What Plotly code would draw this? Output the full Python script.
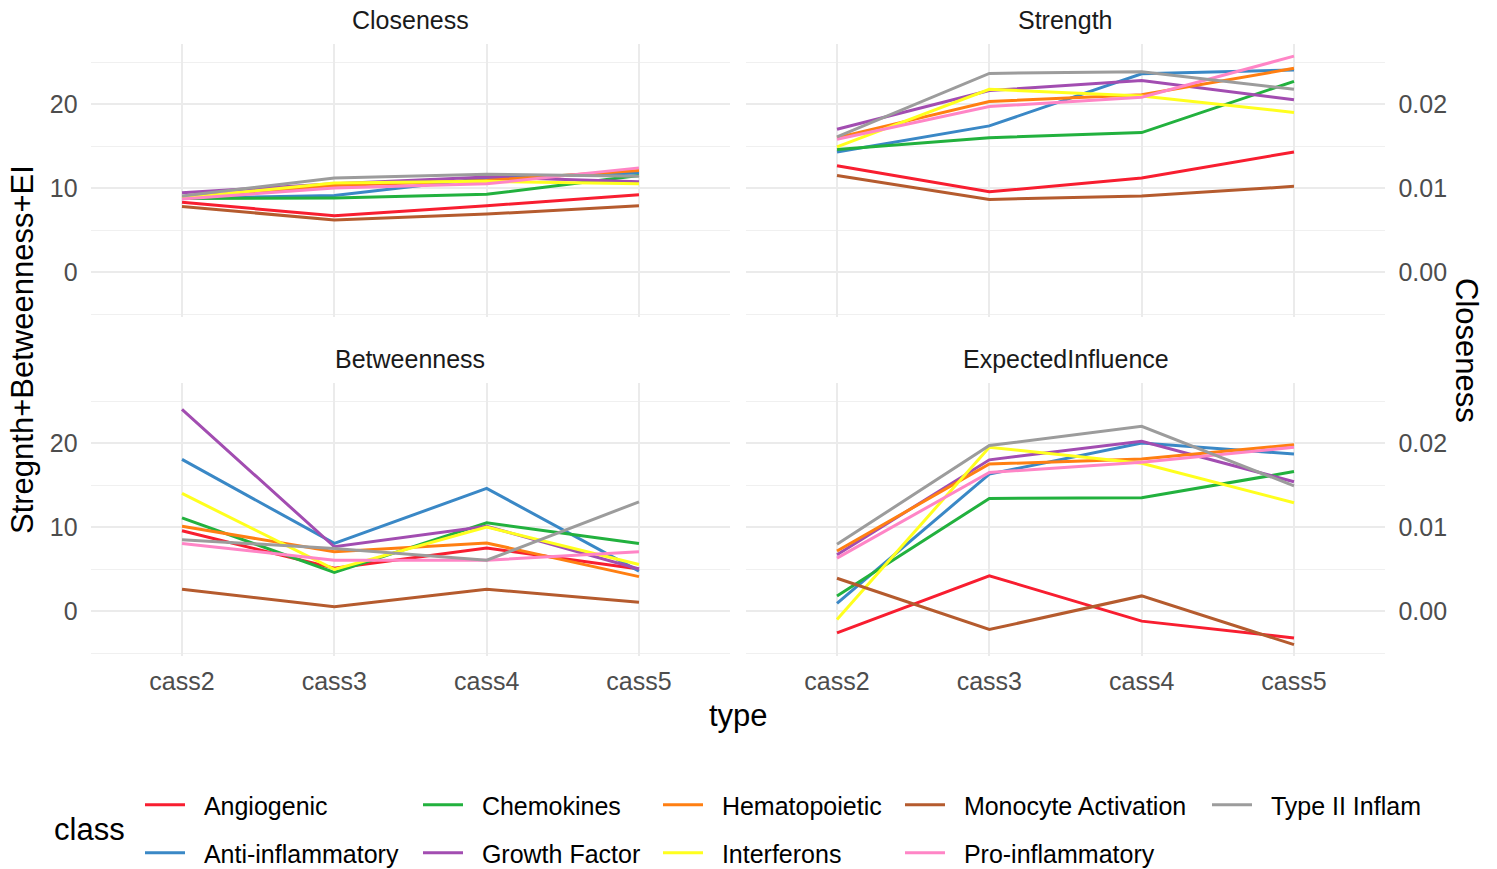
import plotly.graph_objects as go

W, H = 1497, 869

types = ["cass2", "cass3", "cass4", "cass5"]
classes = ["Angiogenic", "Anti-inflammatory", "Chemokines", "Growth Factor",
           "Hematopoietic", "Interferons", "Monocyte Activation",
           "Pro-inflammatory", "Type II Inflam"]
colors = ["#F81E30", "#3A88C6", "#22B13E", "#A24DB1", "#FF7F12",
          "#FFFF1E", "#B55B2E", "#FF85C6", "#9C9C9C"]

# raw closeness values (plotted on primary scale x1000, secondary axis shows raw)
closeness = {
    "Angiogenic":          [0.00830, 0.00670, 0.00790, 0.00920],
    "Anti-inflammatory":   [0.00880, 0.00910, 0.01120, 0.01180],
    "Chemokines":          [0.00875, 0.00880, 0.00925, 0.01150],
    "Growth Factor":       [0.00945, 0.01050, 0.01130, 0.01075],
    "Hematopoietic":       [0.00890, 0.01030, 0.01090, 0.01210],
    "Interferons":         [0.00880, 0.01060, 0.01080, 0.01050],
    "Monocyte Activation": [0.00780, 0.00620, 0.00690, 0.00790],
    "Pro-inflammatory":    [0.00870, 0.01000, 0.01050, 0.01240],
    "Type II Inflam":      [0.00905, 0.01120, 0.01165, 0.01140],
}
strength = {
    "Angiogenic":          [12.65, 9.55, 11.2, 14.3],
    "Anti-inflammatory":   [14.3, 17.4, 23.6, 24.05],
    "Chemokines":          [14.6, 16.0, 16.6, 22.7],
    "Growth Factor":       [17.0, 21.6, 22.8, 20.5],
    "Hematopoietic":       [16.0, 20.3, 21.1, 24.25],
    "Interferons":         [14.9, 21.75, 20.95, 19.0],
    "Monocyte Activation": [11.5, 8.65, 9.05, 10.2],
    "Pro-inflammatory":    [15.8, 19.7, 20.8, 25.7],
    "Type II Inflam":      [16.1, 23.65, 23.85, 21.75],
}
betweenness = {
    "Angiogenic":          [9.55, 5.1, 7.5, 5.0],
    "Anti-inflammatory":   [18.05, 8.05, 14.6, 4.75],
    "Chemokines":          [11.1, 4.6, 10.5, 8.05],
    "Growth Factor":       [24.0, 7.65, 10.1, 5.0],
    "Hematopoietic":       [10.1, 7.05, 8.1, 4.1],
    "Interferons":         [14.0, 4.95, 10.0, 5.55],
    "Monocyte Activation": [2.6, 0.5, 2.6, 1.05],
    "Pro-inflammatory":    [8.05, 6.05, 6.05, 7.05],
    "Type II Inflam":      [8.5, 7.45, 6.05, 13.0],
}
expected_influence = {
    "Angiogenic":          [-2.6, 4.2, -1.2, -3.2],
    "Anti-inflammatory":   [0.9, 16.3, 20.0, 18.7],
    "Chemokines":          [1.8, 13.4, 13.5, 16.6],
    "Growth Factor":       [6.7, 18.0, 20.2, 15.4],
    "Hematopoietic":       [7.15, 17.5, 18.1, 19.8],
    "Interferons":         [-1.0, 19.5, 17.6, 12.9],
    "Monocyte Activation": [3.9, -2.2, 1.8, -4.0],
    "Pro-inflammatory":    [6.3, 16.5, 17.7, 19.5],
    "Type II Inflam":      [7.95, 19.7, 22.0, 14.9],
}
sec_scale = 1000
y_ticks = [0, 10, 20]
y_minor = [-5, 5, 15, 25]
y_ticklabels = ["0", "10", "20"]
closeness_ticks = [0.00, 0.01, 0.02]
closeness_ticklabels = ["0.00", "0.01", "0.02"]

panels = [
    ("Closeness", {c: [v * sec_scale for v in closeness[c]] for c in classes}),
    ("Strength", strength),
    ("Betweenness", betweenness),
    ("ExpectedInfluence", expected_influence),
]

# layout geometry in pixels
XL = (90.6, 730.4)
XR = (745.6, 1385.4)
YT = (44.4, 317.4)
YB = (383.4, 656.4)
YRANGE = [-5.4, 27.1]
boxes = [(XL, YT), (XR, YT), (XL, YB), (XR, YB)]

def px(x):
    return x / W

def py(y):
    return 1 - y / H

FONT = "Liberation Sans, Arial, Helvetica, sans-serif"
GRID = "#EBEBEB"
NB = "\u00a0\u00a0"

fig = go.Figure()
legend_pos = {
    "Angiogenic": (145, 805), "Anti-inflammatory": (145, 853),
    "Chemokines": (423, 805), "Growth Factor": (423, 853),
    "Hematopoietic": (663, 805), "Interferons": (663, 853),
    "Monocyte Activation": (905, 805), "Pro-inflammatory": (905, 853),
    "Type II Inflam": (1212, 805),
}

for pi, (name, data) in enumerate(panels):
    sfx = "" if pi == 0 else str(pi + 1)
    for ci, c in enumerate(classes):
        fig.add_trace(go.Scatter(
            x=types, y=data[c], mode="lines", name=NB + c,
            line=dict(color=colors[ci], width=3),
            xaxis="x" + sfx, yaxis="y" + sfx,
            showlegend=(pi == 0),
            legend=("legend" if ci == 0 else "legend" + str(ci + 1)),
        ))

layout = dict(
    width=W, height=H,
    margin=dict(l=0, r=0, t=0, b=0, autoexpand=False),
    paper_bgcolor="white", plot_bgcolor="white",
    font=dict(family=FONT, size=25, color="black"),
    showlegend=True,
)
annotations = []
for pi, ((xa, ya), (name, _)) in enumerate(zip(boxes, panels)):
    sfx = "" if pi == 0 else str(pi + 1)
    right = pi in (1, 3)
    bottom = pi in (2, 3)
    layout["xaxis" + sfx] = dict(
        domain=[px(xa[0]), px(xa[1])], anchor="y" + sfx,
        type="category", categoryorder="array", categoryarray=types,
        range=[-0.6, 3.6], showgrid=True, gridcolor=GRID, gridwidth=2,
        showline=False, zeroline=False, ticks="",
        showticklabels=bottom,
        tickfont=dict(size=25, color="#4D4D4D", family=FONT),
        ticklabelstandoff=8,
    )
    if right:
        tv = [t * sec_scale for t in closeness_ticks]
        tt = closeness_ticklabels
    else:
        tv = y_ticks
        tt = y_ticklabels
    layout["yaxis" + sfx] = dict(
        domain=[py(ya[1]), py(ya[0])], anchor="x" + sfx,
        range=YRANGE, tickmode="array", tickvals=tv, ticktext=tt,
        side="right" if right else "left",
        showgrid=True, gridcolor=GRID, gridwidth=2,
        minor=dict(tickmode="array", tickvals=y_minor, showgrid=True,
                   gridcolor="#F0F0F0", gridwidth=1.3, ticks=""),
        showline=False, zeroline=False, ticks="",
        tickfont=dict(size=25, color="#4D4D4D", family=FONT),
        ticklabelstandoff=12,
    )
    annotations.append(dict(
        text=name, x=px((xa[0] + xa[1]) / 2), y=py(ya[0] - 24),
        xref="paper", yref="paper", showarrow=False,
        xanchor="center", yanchor="middle",
        font=dict(size=25, color="#1A1A1A", family=FONT),
    ))

annotations += [
    dict(text="type", x=px(738), y=py(715), xref="paper", yref="paper",
         showarrow=False, xanchor="center", yanchor="middle",
         font=dict(size=31, color="black", family=FONT)),
    dict(text="Stregnth+Betweenness+EI", x=px(22), y=py(350), xref="paper",
         yref="paper", showarrow=False, textangle=-90, xanchor="center",
         yanchor="middle", font=dict(size=31, color="black", family=FONT)),
    dict(text="Closeness", x=px(1467), y=py(350), xref="paper",
         yref="paper", showarrow=False, textangle=90, xanchor="center",
         yanchor="middle", font=dict(size=31, color="black", family=FONT)),
    dict(text="class", x=px(52), y=py(829), xref="paper", yref="paper",
         showarrow=False, xanchor="left", yanchor="middle",
         font=dict(size=31, color="black", family=FONT)),
]
layout["annotations"] = annotations

for ci, c in enumerate(classes):
    key = "legend" if ci == 0 else "legend" + str(ci + 1)
    lx, ly = legend_pos[c]
    layout[key] = dict(
        x=px(lx - 5), y=py(ly), xanchor="left", yanchor="middle",
        xref="paper", yref="paper", bgcolor="rgba(0,0,0,0)", borderwidth=0,
        font=dict(size=25, color="black", family=FONT),
        itemwidth=40, orientation="v",
    )

fig.update_layout(**layout)
fig.write_html("out.html",
               config={"displayModeBar": False},
               post_script="document.body.style.margin='0';"
                           "document.body.style.overflow='hidden';")
